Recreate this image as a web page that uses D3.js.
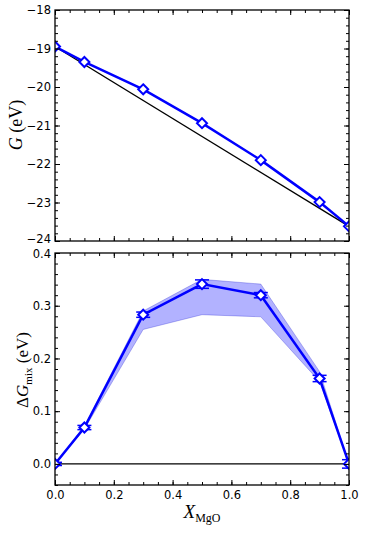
<!DOCTYPE html>
<html>
<head>
<meta charset="utf-8">
<script src="https://cdn.jsdelivr.net/npm/d3@7"></script>
<style>
  body { margin: 0; background: #fff; }
  .tick text { font-family: "DejaVu Sans", sans-serif; }
  text.lbl, text.lbl tspan { font-family: "Liberation Serif", "DejaVu Serif", serif; }
</style>
</head>
<body>
<div id="chart"></div>
<script>
const WIDTH = 368;
const HEIGHT = 552;

// composition points
const xMgO = [0, 0.1, 0.3, 0.5, 0.7, 0.9, 1.0];
// free energy G (eV)
const gValues = [-18.95, -19.35, -20.06, -20.94, -21.90, -22.99, -23.62];
// mixing free energy and its error bar
const dgMix = [0, 0.069, 0.283, 0.341, 0.320, 0.162, 0];
const dgErr = [0.003, 0.004, 0.005, 0.008, 0.005, 0.006, 0.008];
// shaded band bounds
const bandLow = [0, 0.066, 0.255, 0.283, 0.279, 0.156, 0];
const bandHigh = [0, 0.072, 0.290, 0.350, 0.341, 0.175, 0];

const xTicks = [0, 0.2, 0.4, 0.6, 0.8, 1.0];
const gTicks = [-24, -23, -22, -21, -20, -19, -18];
const dgTicks = [0.0, 0.1, 0.2, 0.3, 0.4];

const LEFT = 55, RIGHT = 349;
const BLUE = '#0000ff';

const svg = d3.select('#chart').append('svg')
  .attr('width', WIDTH)
  .attr('height', HEIGHT);

const defs = svg.append('defs');

function panel(id, y0, y1, yDomain, yMajor, yMinorStep, yFmt, showX) {
  const x = d3.scaleLinear().domain([0, 1]).range([LEFT, RIGHT]);
  const y = d3.scaleLinear().domain(yDomain).range([y1, y0]);

  defs.append('clipPath').attr('id', id)
    .append('rect')
    .attr('x', LEFT).attr('y', y0)
    .attr('width', RIGHT - LEFT).attr('height', y1 - y0);

  const g = svg.append('g');
  const plot = g.append('g').attr('clip-path', `url(#${id})`);

  const xMinor = d3.range(0, 1.0001, 0.05);
  const yMinor = d3.range(yDomain[0], yDomain[1] + 1e-6, yMinorStep)
    .map(v => +v.toFixed(4));

  // inward ticks on all four sides
  const axes = g.append('g');
  axes.append('g').attr('transform', `translate(0,${y1})`)
    .call(d3.axisTop(x).tickValues(xMinor).tickSize(3).tickFormat(''));
  axes.append('g').attr('transform', `translate(0,${y1})`)
    .call(d3.axisTop(x).tickValues(xTicks).tickSize(5).tickFormat(''));
  axes.append('g').attr('transform', `translate(0,${y0})`)
    .call(d3.axisBottom(x).tickValues(xMinor).tickSize(3).tickFormat(''));
  axes.append('g').attr('transform', `translate(0,${y0})`)
    .call(d3.axisBottom(x).tickValues(xTicks).tickSize(5).tickFormat(''));
  axes.append('g').attr('transform', `translate(${LEFT},0)`)
    .call(d3.axisRight(y).tickValues(yMinor).tickSize(3).tickFormat(''));
  axes.append('g').attr('transform', `translate(${LEFT},0)`)
    .call(d3.axisRight(y).tickValues(yMajor).tickSize(5).tickFormat(''));
  axes.append('g').attr('transform', `translate(${RIGHT},0)`)
    .call(d3.axisLeft(y).tickValues(yMinor).tickSize(3).tickFormat(''));
  axes.append('g').attr('transform', `translate(${RIGHT},0)`)
    .call(d3.axisLeft(y).tickValues(yMajor).tickSize(5).tickFormat(''));
  axes.selectAll('.domain').remove();
  axes.selectAll('line').attr('stroke', '#000').attr('stroke-width', 1);

  // tick labels
  const yLab = g.append('g').attr('transform', `translate(${LEFT},0)`)
    .call(d3.axisLeft(y).tickValues(yMajor).tickSize(0).tickPadding(4).tickFormat(yFmt));
  yLab.select('.domain').remove();
  yLab.selectAll('text').attr('font-size', 11.5).attr('fill', '#000');

  if (showX) {
    const xLab = g.append('g').attr('transform', `translate(0,${y1})`)
      .call(d3.axisBottom(x).tickValues(xTicks).tickSize(0).tickPadding(6).tickFormat(d3.format('.1f')));
    xLab.select('.domain').remove();
    xLab.selectAll('text').attr('font-size', 11.5).attr('fill', '#000');
  }

  // frame drawn last
  g.append('rect')
    .attr('x', LEFT).attr('y', y0)
    .attr('width', RIGHT - LEFT).attr('height', y1 - y0)
    .attr('fill', 'none').attr('stroke', '#000').attr('stroke-width', 1.3);

  return { x, y, plot, yLab };
}

function diamonds(plot, x, y, values) {
  const r = 5;
  plot.append('g').selectAll('path')
    .data(xMgO)
    .join('path')
    .attr('d', (d, i) => {
      const cx = x(d), cy = y(values[i]);
      return `M${cx},${cy - r}L${cx + r},${cy}L${cx},${cy + r}L${cx - r},${cy}Z`;
    })
    .attr('fill', '#fff')
    .attr('stroke', BLUE)
    .attr('stroke-width', 2);
}

// top panel: G
const upper = panel('clipTop', 10, 241, [-24, -18], gTicks, 0.2, d3.format('d'), false);
// lowest label sits just above the panel below
upper.yLab.selectAll('.tick').filter(d => d === -24).select('text').attr('dy', '0.15em');
upper.plot.append('line')
  .attr('x1', upper.x(0)).attr('y1', upper.y(gValues[0]))
  .attr('x2', upper.x(1)).attr('y2', upper.y(gValues[gValues.length - 1]))
  .attr('stroke', '#000').attr('stroke-width', 1.3);
upper.plot.append('path')
  .datum(xMgO)
  .attr('d', d3.line().x(d => upper.x(d)).y((d, i) => upper.y(gValues[i])))
  .attr('fill', 'none').attr('stroke', BLUE).attr('stroke-width', 2.5);
diamonds(upper.plot, upper.x, upper.y, gValues);

svg.append('text').attr('class', 'lbl')
  .attr('transform', 'translate(22,125) rotate(-90)')
  .attr('text-anchor', 'middle')
  .attr('font-size', 18)
  .html('<tspan font-style="italic">G</tspan> (eV)');

// bottom panel: mixing energy
const lower = panel('clipBot', 253, 485, [-0.04, 0.4], dgTicks, 0.02, d3.format('.1f'), true);
lower.yLab.selectAll('.tick').filter(d => d === 0.4).select('text').attr('dy', '0.4em');
lower.plot.append('path')
  .datum(xMgO)
  .attr('d', d3.area().x(d => lower.x(d))
    .y0((d, i) => lower.y(bandLow[i])).y1((d, i) => lower.y(bandHigh[i])))
  .attr('fill', 'rgba(0,0,255,0.3)')
  .attr('stroke', 'rgba(0,0,200,0.25)').attr('stroke-width', 1);
lower.plot.append('line')
  .attr('x1', lower.x(0)).attr('x2', lower.x(1))
  .attr('y1', lower.y(0)).attr('y2', lower.y(0))
  .attr('stroke', '#000').attr('stroke-width', 1.1);
lower.plot.append('path')
  .datum(xMgO)
  .attr('d', d3.line().x(d => lower.x(d)).y((d, i) => lower.y(dgMix[i])))
  .attr('fill', 'none').attr('stroke', BLUE).attr('stroke-width', 2.5);

const errs = lower.plot.append('g').attr('stroke', BLUE).attr('stroke-width', 1.5);
xMgO.forEach((d, i) => {
  const cx = lower.x(d);
  const ya = lower.y(dgMix[i] - dgErr[i]);
  const yb = lower.y(dgMix[i] + dgErr[i]);
  errs.append('line').attr('x1', cx).attr('x2', cx).attr('y1', ya).attr('y2', yb);
  errs.append('line').attr('x1', cx - 7).attr('x2', cx + 7).attr('y1', ya).attr('y2', ya);
  errs.append('line').attr('x1', cx - 7).attr('x2', cx + 7).attr('y1', yb).attr('y2', yb);
});
diamonds(lower.plot, lower.x, lower.y, dgMix);

svg.append('text').attr('class', 'lbl')
  .attr('transform', 'translate(28,370) rotate(-90)')
  .attr('text-anchor', 'middle')
  .attr('font-size', 17)
  .html('Δ<tspan font-style="italic">G</tspan><tspan font-size="11" dy="3.5">mix</tspan><tspan dy="-3.5"> (eV)</tspan>');

svg.append('text').attr('class', 'lbl')
  .attr('x', 202).attr('y', 518)
  .attr('text-anchor', 'middle')
  .attr('font-size', 19)
  .html('<tspan font-style="italic">X</tspan><tspan font-size="12" dy="4">MgO</tspan>');
</script>
</body>
</html>
